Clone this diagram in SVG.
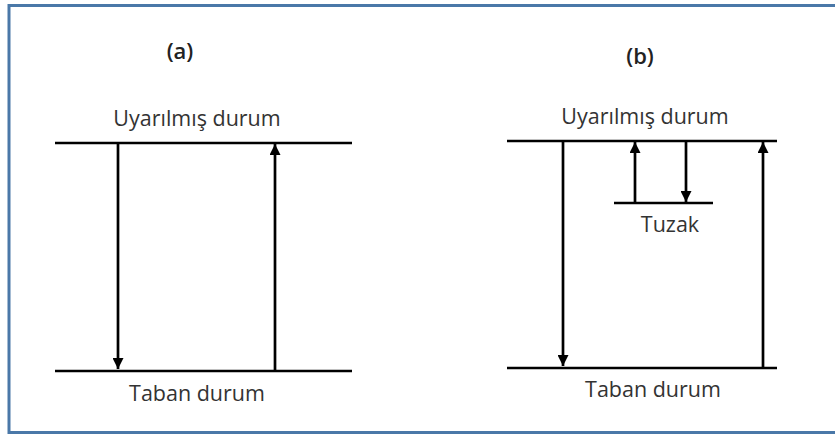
<svg xmlns="http://www.w3.org/2000/svg" width="835" height="434" viewBox="0 0 835 434">
<defs>
<marker id="ah" viewBox="0 0 10 10" refX="10" refY="5" markerWidth="12" markerHeight="11" markerUnits="userSpaceOnUse" orient="auto">
<path d="M0,0 L10,5 L0,10 z" fill="#000"/>
</marker>
<style>
.lvl{stroke:#000;stroke-width:2.7;fill:none}
.arr{stroke:#000;stroke-width:2.7;fill:none;marker-end:url(#ah)}
text{font-family:"Open Sans","Liberation Sans",sans-serif;fill:#333;font-size:21.5px;text-anchor:middle}
.lab{font-size:22px;fill:#222;font-weight:600}
</style>
</defs>
<rect x="0" y="0" width="835" height="434" fill="#fff"/>
<rect x="9" y="5.5" width="840" height="427" fill="none" stroke="#4a78a8" stroke-width="3"/>
<g id="panel-a">
<text class="lab" x="180" y="59">(a)</text>
<text x="197" y="126">Uyarılmış durum</text>
<line class="lvl" x1="55" y1="143" x2="352" y2="143"/>
<line class="lvl" x1="55" y1="371" x2="352" y2="371"/>
<text x="197" y="401">Taban durum</text>
</g>
<g id="panel-b">
<text class="lab" x="640" y="64">(b)</text>
<text x="645" y="124">Uyarılmış durum</text>
<line class="lvl" x1="507" y1="141" x2="777" y2="141"/>
<line class="lvl" x1="614" y1="203" x2="713" y2="203"/>
<text x="670" y="232">Tuzak</text>
<line class="lvl" x1="507" y1="368" x2="777" y2="368"/>
<text x="653" y="397">Taban durum</text>
</g>
<g id="connectors">
<line class="arr" x1="118" y1="143" x2="118" y2="369"/>
<line class="arr" x1="275" y1="371" x2="275" y2="144"/>
<line class="arr" x1="563" y1="141" x2="563" y2="366"/>
<line class="arr" x1="763" y1="368" x2="763" y2="142"/>
<line class="arr" x1="635" y1="203" x2="635" y2="142"/>
<line class="arr" x1="686" y1="141" x2="686" y2="202"/>
</g>
</svg>
